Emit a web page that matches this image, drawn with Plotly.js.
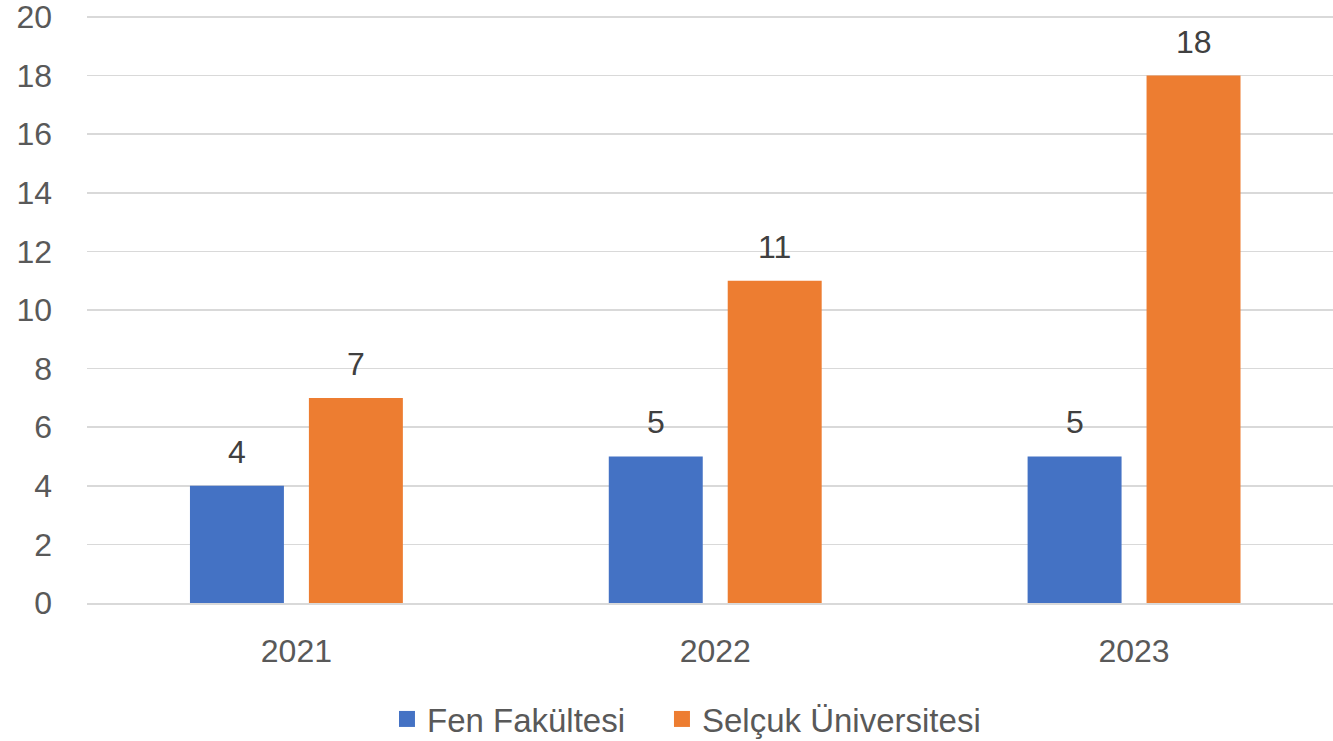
<!DOCTYPE html>
<html><head><meta charset="utf-8">
<script src="https://cdn.plot.ly/plotly-3.0.1.min.js"></script>
<style>html,body{margin:0;padding:0;background:#fff}#chart{width:1333px;height:741px}</style>
</head><body><div id="chart"></div>
<script>
const years = ['2021','2022','2023'];
const fenFakultesi = [4,5,5];
const selcukUniversitesi = [7,11,18];
const seriesNames = ['Fen Fakültesi','Selçuk Üniversitesi'];
const colors = ['#4472C4','#ED7D31'];
const axisText = '#595959';
const labelText = '#404040';
const font = 'Liberation Sans, Arial, sans-serif';
const seriesValues = [fenFakultesi, selcukUniversitesi];
const legendIds = ['legend','legend2'];

const traces = seriesValues.map((v,i)=>({
  type:'bar', x:years, y:v, name:seriesNames[i], marker:{color:colors[i]},
  hoverinfo:'skip', showlegend:false
}));
seriesNames.forEach((n,i)=>traces.push({
  type:'scatter', mode:'markers', x:[null], y:[null], name:n, legend:legendIds[i],
  marker:{symbol:'square', size:20, color:colors[i]}, hoverinfo:'skip'
}));
const annotations = [];
seriesValues.forEach((v,i)=>{
  v.forEach((val,j)=>{
    annotations.push({x:j, xref:'x', y:val, yref:'y', text:String(val), showarrow:false,
      xshift: i===0?-59.5:59.5, yanchor:'bottom', yshift:14,
      font:{family:font,size:32,color:labelText}});
  });
});
const legendBase = {orientation:'h', xref:'container', yref:'container', xanchor:'left', yanchor:'middle',
  y:0.0297, font:{family:font,size:33,color:axisText}, itemwidth:30, bgcolor:'rgba(0,0,0,0)'};
const layout = {
  width:1333, height:741,
  margin:{l:86.5,r:0,t:14,b:138},
  paper_bgcolor:'#fff', plot_bgcolor:'#fff',
  barmode:'group', bargap:0.432, bargroupgap:0.21,
  font:{family:font,color:axisText,size:28},
  xaxis:{type:'category', range:[-0.5,2.475], showgrid:false, showline:true, linecolor:'#d9d9d9', linewidth:1.5,
    ticks:'', tickfont:{family:font,size:32,color:axisText}, ticklabelstandoff:19},
  yaxis:{range:[0,20.1], tick0:0, dtick:2, showgrid:true, gridcolor:'#d9d9d9', gridwidth:1.5, zeroline:false,
    showline:false, ticks:'', tickfont:{family:font,size:32,color:axisText}, ticklabelstandoff:34,
    ticklabeloverflow:'allow'},
  showlegend:true,
  legend:Object.assign({}, legendBase, {x:0.2903}),
  legend2:Object.assign({}, legendBase, {x:0.4966}),
  annotations:annotations
};
Plotly.newPlot('chart', traces, layout, {displayModeBar:false, staticPlot:true});
</script></body></html>
